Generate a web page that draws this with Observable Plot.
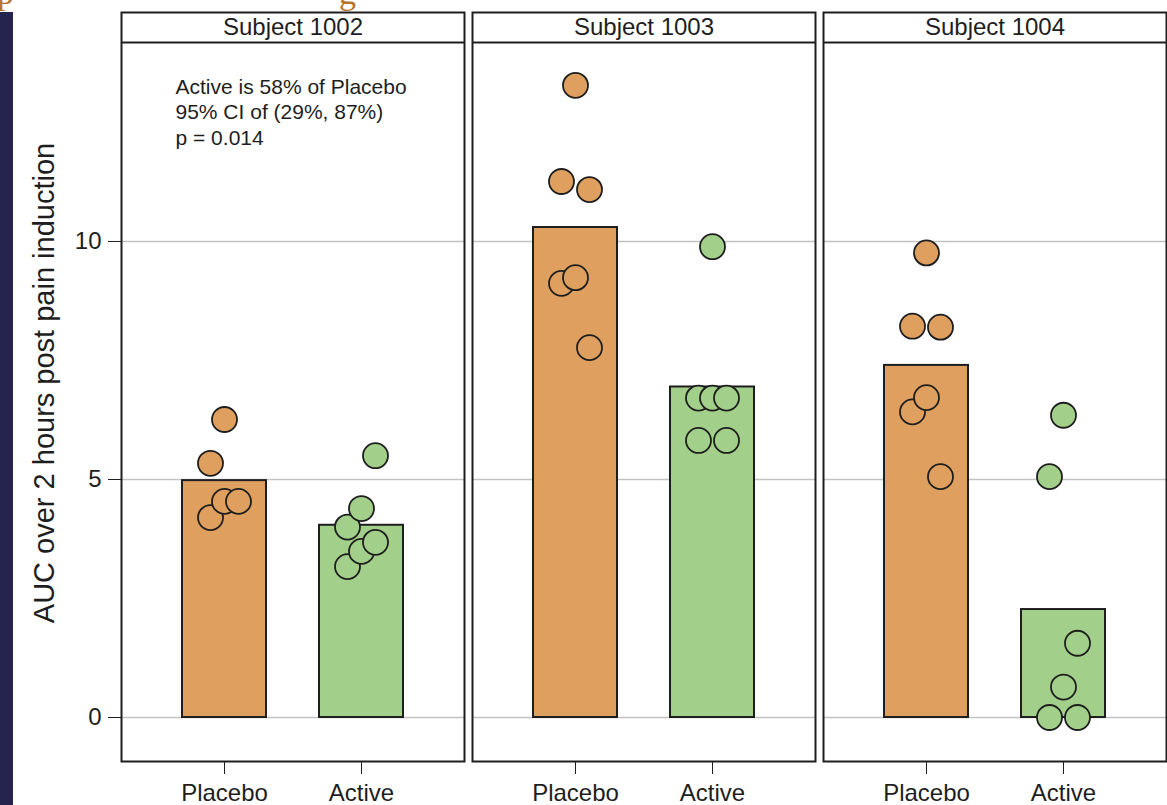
<!DOCTYPE html>
<html>
<head>
<meta charset="utf-8">
<script src="https://cdn.jsdelivr.net/npm/d3@7"></script>
<script src="https://cdn.jsdelivr.net/npm/@observablehq/plot@0.6"></script>
<style>
  html, body { margin: 0; padding: 0; background: #fff; width: 1167px; height: 805px; overflow: hidden; position: relative; }
  body { font-family: "Liberation Sans", Arial, Helvetica, sans-serif; }
  #chart { position: absolute; left: 0; top: 0; }
  #navy { position: absolute; left: 0; top: 12px; width: 13px; height: 793px; background: #25244f; z-index: 2; }
  .frag { position: absolute; font-family: "Liberation Serif", "DejaVu Serif", serif; font-size: 34px; line-height: 34px; color: #b8742c; z-index: 3; }
</style>
</head>
<body>
<div class="frag" style="left:-3px; top:-24px;">p</div>
<div class="frag" style="left:339px; top:-24px;">g</div>
<div id="navy"></div>
<div id="chart"></div>
<script>
// ---------------- data ----------------
const subjects = ["1002", "1003", "1004"];
const treatments = ["Placebo", "Active"];

// individual AUC values (drawing order) and jitter slot (-1 left, 0 centre, 1 right)
const placebo1002 = [4.20, 4.54, 4.54, 5.34, 6.26];
const placebo1002Slot = [-1, 0, 1, -1, 0];
const active1002 = [3.17, 3.49, 3.68, 4.00, 4.39, 5.50];
const active1002Slot = [-1, 0, 1, -1, 0, 1];

const placebo1003 = [7.77, 9.12, 9.24, 11.09, 11.26, 13.28];
const placebo1003Slot = [1, -1, 0, 1, -1, 0];
const active1003 = [5.82, 5.82, 6.71, 6.71, 6.71, 9.89];
const active1003Slot = [-1, 1, 0, -1, 1, 0];

const placebo1004 = [5.06, 6.42, 6.72, 8.20, 8.22, 9.76];
const placebo1004Slot = [1, -1, 0, 1, -1, 0];
const active1004 = [0.00, 0.00, 0.64, 1.56, 5.06, 6.35];
const active1004Slot = [-1, 1, 0, 1, -1, 0];

const yTicks = [0, 5, 10];
const yLabel = "AUC over 2 hours post pain induction";
const statLines = ["Active is 58% of Placebo", "95% CI of (29%, 87%)", "p = 0.014"];
const statSubject = "1002";

// ---------------- build table ----------------
const series = [
  ["1002", "Placebo", placebo1002, placebo1002Slot],
  ["1002", "Active", active1002, active1002Slot],
  ["1003", "Placebo", placebo1003, placebo1003Slot],
  ["1003", "Active", active1003, active1003Slot],
  ["1004", "Placebo", placebo1004, placebo1004Slot],
  ["1004", "Active", active1004, active1004Slot]
];
const points = series.flatMap(([subject, treatment, values, slots]) =>
  values.map((value, i) => ({subject, treatment, value, slot: slots[i]})));

// ---------------- layout / style ----------------
const W = 1167, H = 805;
const yDomainLow = -0.924, yDomainHigh = 14.81, headerLine = 14.18;
const jitterPx = 14;
const ink = "#1e1e1e";
const colors = ["#dfa05f", "#a2d08a"];
const font = "'Liberation Sans', Arial, Helvetica, sans-serif";

const chart = Plot.plot({
  width: W,
  height: H,
  marginLeft: 121,
  marginRight: 1,
  marginTop: 12,
  marginBottom: 44,
  style: {fontFamily: font, fontSize: "24px", color: ink, background: "transparent"},
  fx: {domain: subjects, paddingInner: 0.0228, paddingOuter: 0, axis: null},
  x: {domain: treatments, paddingInner: 0.387, paddingOuter: 0.445},
  y: {domain: [yDomainLow, yDomainHigh]},
  color: {domain: treatments, range: colors},
  marks: [
    Plot.gridY(yTicks, {stroke: "#c2c2c2", strokeOpacity: 1, strokeWidth: 1.5}),
    Plot.barY(points, Plot.groupX({y: "mean"}, {
      fx: "subject", x: "treatment", y: "value", fill: "treatment", stroke: ink, strokeWidth: 2
    })),
    ...[-1, 0, 1].map(s => Plot.dot(points.filter(d => d.slot === s), {
      fx: "subject", x: "treatment", y: "value", dx: s * jitterPx,
      r: 12.5, fill: "treatment", stroke: ink, strokeWidth: 1.8
    })),
    Plot.ruleY([headerLine], {stroke: ink, strokeWidth: 2}),
    Plot.frame({stroke: ink, strokeWidth: 2}),
    Plot.text(subjects, {
      fx: d => d, text: d => "Subject " + d, frameAnchor: "top",
      lineAnchor: "top", dy: 5, fontSize: 24, fill: ink
    }),
    Plot.text([statLines.join("\n")], {
      fx: () => statSubject, text: d => d, frameAnchor: "top-left", lineAnchor: "top",
      textAnchor: "start", dx: 54, dy: 63, fontSize: 21, lineHeight: 1.22, fill: ink
    }),
    Plot.text([yLabel], {
      fx: () => subjects[0], text: d => d, frameAnchor: "left", rotate: -90,
      textAnchor: "middle", lineAnchor: "middle", dx: -77, dy: -4, fontSize: 29, fill: ink
    }),
    Plot.axisY(yTicks, {
      tickSize: 13, tickPadding: 7, fontSize: 24, label: null, stroke: ink, fill: ink,
      tickFormat: d => String(d)
    }),
    Plot.axisX({tickSize: 13, tickPadding: 9, fontSize: 24, label: null, stroke: ink, fill: ink})
  ]
});
document.getElementById("chart").appendChild(chart);
</script>
</body>
</html>
